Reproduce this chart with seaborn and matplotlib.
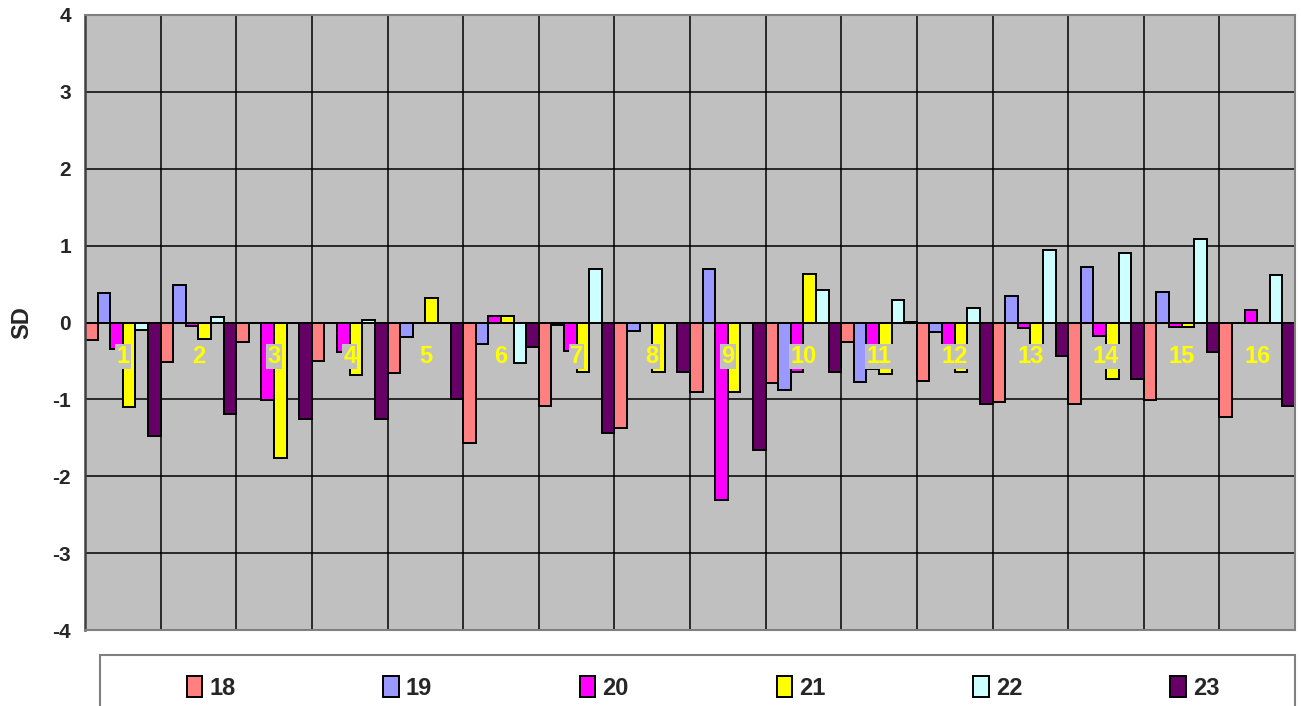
import numpy as np
import pandas as pd
import matplotlib
matplotlib.use("Agg")
import matplotlib.pyplot as plt
import seaborn as sns
from matplotlib.patches import Rectangle

categories = [str(i) for i in range(1, 17)]
series_names = ["18", "19", "20", "21", "22", "23"]
s18 = [-0.23, -0.52, -0.25, -0.50, -0.66, -1.57, -1.09, -1.37, -0.90, -0.79, -0.25, -0.76, -1.03, -1.06, -1.01, -1.23]
s19 = [0.39, 0.49, 0.0, 0.0, -0.19, -0.28, -0.03, -0.11, 0.69, -0.875, -0.78, -0.13, 0.34, 0.72, 0.40, 0.0]
s20 = [-0.35, -0.04, -1.01, -0.38, 0.0, 0.09, -0.37, 0.0, -2.31, -0.64, -0.60, -0.35, -0.07, -0.18, -0.06, 0.16]
s21 = [-1.10, -0.22, -1.76, -0.68, 0.32, 0.09, -0.64, -0.64, -0.91, 0.63, -0.67, -0.64, -0.55, -0.73, -0.06, 0.0]
s22 = [-0.10, 0.07, 0.0, 0.03, 0.0, -0.53, 0.69, 0.0, 0.0, 0.42, 0.29, 0.185, 0.94, 0.91, 1.09, 0.62]
s23 = [-1.48, -1.19, -1.26, -1.25, -0.99, -0.32, -1.44, -0.64, -1.66, -0.64, 0.01, -1.06, -0.43, -0.73, -0.38, -1.08]
y_ticks = [-4, -3, -2, -1, 0, 1, 2, 3, 4]
colors = ["#FF8080", "#9999FF", "#FF00FF", "#FFFF00", "#CCFFFF", "#660066"]

rows = []
for name, vals in zip(series_names, [s18, s19, s20, s21, s22, s23]):
    for c, v in zip(categories, vals):
        rows.append({"cat": c, "series": name, "val": v})
df = pd.DataFrame(rows)

sns.set_style("white")
plt.rcParams["font.family"] = ["Liberation Sans", "DejaVu Sans"]

W, H = 1301, 706
fig = plt.figure(figsize=(W / 100, H / 100), dpi=100)
ax = fig.add_axes([85 / W, 1 - 630 / H, (1295 - 85) / W, (630 - 15) / H])
ax.set_facecolor("#C0C0C0")

sns.barplot(data=df, x="cat", y="val", hue="series", order=categories,
            hue_order=series_names, palette=colors, width=1.0, gap=0,
            edgecolor="black", linewidth=1.4, ax=ax, legend=False,
            errorbar=None, saturation=1)

ax.set_ylim(-4, 4)
ax.set_xlim(-0.5, len(categories) - 0.5)
ax.set_yticks(y_ticks)
ax.set_yticklabels([str(t) for t in y_ticks], fontsize=15, fontweight="bold")
ax.set_xticks(np.arange(len(categories)))
ax.set_xticklabels([])
ax.set_xticks(np.arange(len(categories)) + 0.5, minor=True)
ax.tick_params(axis="x", which="both", length=0)
ax.tick_params(axis="y", which="major", direction="out", length=6, width=1.2, color="#404040", pad=4)
ax.set_axisbelow(True)
ax.grid(axis="y", which="major", color="black", linewidth=1.1)
ax.grid(axis="x", which="minor", color="black", linewidth=1.1)
ax.set_xlabel("")
ax.set_ylabel("SD", fontsize=17, fontweight="bold", labelpad=14)
ax.axhline(0, color="black", linewidth=1.4, zorder=1.5)

for sp in ["top", "right", "bottom"]:
    ax.spines[sp].set_color("#808080")
    ax.spines[sp].set_linewidth(1.5)
ax.spines["left"].set_color("#404040")
ax.spines["left"].set_linewidth(1.8)

for i, c in enumerate(categories):
    ax.text(i, -0.44, c, ha="center", va="center", color="#FFFF00",
            fontsize=17, fontweight="bold", zorder=5,
            bbox=dict(boxstyle="square,pad=0.05", facecolor="#C0C0C0", edgecolor="none"))

# legend frame
fig.patches.append(Rectangle((100 / W, -0.05), (1295 - 100) / W, 0.05 + (706 - 655) / H,
                             transform=fig.transFigure, facecolor="white",
                             edgecolor="#808080", linewidth=1.5))
handles = [Rectangle((0, 0), 1, 1, facecolor=col, edgecolor="black", linewidth=1.4) for col in colors]
fig.legend(handles, series_names, loc="center", ncol=6, mode="expand", frameon=False,
           bbox_to_anchor=(175 / W, 1 - 688 / H - 0.02, (1231 - 175) / W, 0.04),
           borderpad=0, handlelength=0.65, handleheight=1.0, handletextpad=0.3,
           prop={"weight": "bold", "size": 17, "family": "Liberation Sans"})

fig.savefig("out.png", dpi=100)
